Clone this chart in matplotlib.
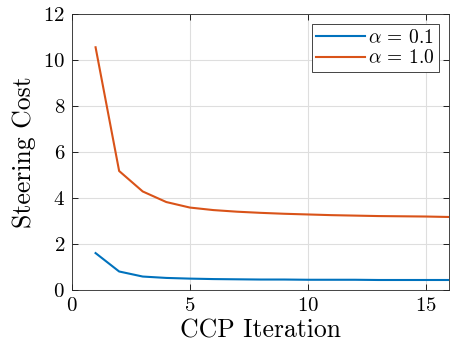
import numpy as np
import matplotlib
matplotlib.use('Agg')
import matplotlib.pyplot as plt

iterations = list(range(1, 17))
cost_alpha01 = [1.60, 0.80, 0.58, 0.52, 0.49, 0.47, 0.46, 0.45, 0.45, 0.44,
                0.44, 0.44, 0.43, 0.43, 0.43, 0.43]
cost_alpha10 = [10.55, 5.17, 4.28, 3.82, 3.58, 3.47, 3.40, 3.35, 3.31, 3.28,
                3.25, 3.23, 3.21, 3.20, 3.19, 3.17]
labels = [r'$\alpha$ = 0.1', r'$\alpha$ = 1.0']

plt.rcParams['font.family'] = 'serif'
plt.rcParams['font.serif'] = ['cmr10']
plt.rcParams['mathtext.fontset'] = 'cm'
plt.rcParams['axes.formatter.use_mathtext'] = True

fig = plt.figure(figsize=(4.5, 3.48), dpi=100)
ax = fig.add_axes([0.16, 0.167, 0.838, 0.793])

ax.plot(iterations, cost_alpha01, color='#0072BD', lw=1.5, label=labels[0])
ax.plot(iterations, cost_alpha10, color='#D95319', lw=1.5, label=labels[1])

ax.set_xlim(0, 16)
ax.set_ylim(0, 12)
ax.set_xticks([0, 5, 10, 15])
ax.set_yticks(range(0, 13, 2))
ax.tick_params(direction='in', top=True, right=True, labelsize=15, length=4,
               width=0.6, pad=5)
ax.grid(True, color='#dedede', lw=0.8)
for s in ax.spines.values():
    s.set_linewidth(0.6)
    s.set_color('#262626')

ax.set_xlabel('CCP Iteration', fontsize=18.5, labelpad=3)
ax.set_ylabel('Steering Cost', fontsize=18.5, labelpad=5)

leg = ax.legend(loc='upper right', fontsize=14, fancybox=False, framealpha=1,
                edgecolor='#262626', handlelength=2.5, handletextpad=0.15,
                borderpad=0.25, labelspacing=0.15, borderaxespad=0.5)
leg.get_frame().set_linewidth(0.6)

fig.savefig('out.png', dpi=100)
